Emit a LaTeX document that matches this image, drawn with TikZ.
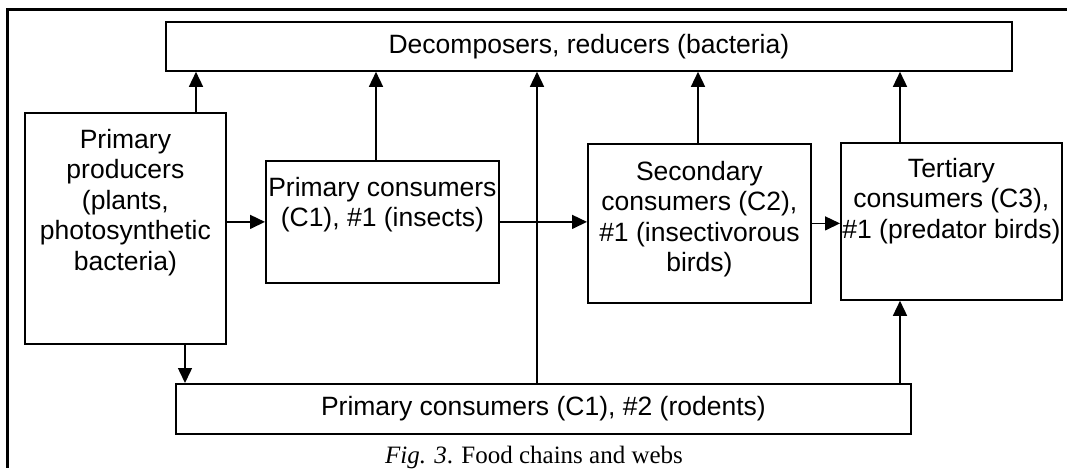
\documentclass[tikz,border=0pt]{standalone}
\usepackage{fontspec}
\setmainfont{Liberation Sans}
\newfontfamily\captionfont{Liberation Serif}
\usetikzlibrary{arrows.meta, positioning}

\begin{document}
\begin{tikzpicture}[x=1pt, y=-1pt,
    box/.style = {draw, line width=1.8pt, inner sep=0pt, anchor=north west},
    lbl/.style = {align=center, inner sep=0pt, font=\fontsize{26.5}{30.5}\selectfont},
    arr/.style = {line width=1.5pt, -{Triangle[length=15pt, width=14pt]}}]
    % Pagina
    \useasboundingbox (0,0) rectangle (1067,468);
    \draw[line width=3pt] (1067,10) -- (7,10) -- (7,468);
    % Colonne delle frecce
    \coordinate (xa) at (196,0);
    \coordinate (xb) at (185,0);
    \coordinate (xc) at (376,0);
    \coordinate (xd) at (537,0);
    \coordinate (xe) at (698,0);
    \coordinate (xf) at (900,0);
    % Riquadri
    \node[box, lbl, minimum width=846pt, minimum height=49pt] (dec) at (165,21) {Decomposers, reducers (bacteria)};
    \node[box, minimum width=201pt, minimum height=231pt] (prod) at (24,112) {};
    \node[box, minimum width=233pt, minimum height=122pt] (cons1) at (265,160) {};
    \node[box, minimum width=223pt, minimum height=159pt] (cons2) at (587,143) {};
    \node[box, minimum width=221pt, minimum height=157pt] (cons3) at (840,142) {};
    \node[box, lbl, minimum width=735pt, minimum height=50pt] (rod) at (175,383) {Primary consumers (C1), \#2 (rodents)};
    % Testi
    \node[lbl, below=17pt of prod.north] (prodlbl) {Primary\\producers\\(plants,\\photosynthetic\\bacteria)};
    \node[lbl, below=17pt of cons1.north] (cons1lbl) {Primary consumers\\(C1), \#1 (insects)};
    \node[lbl, below=18pt of cons2.north] (cons2lbl) {Secondary\\consumers (C2),\\\#1 (insectivorous\\birds)};
    \node[lbl, below=16pt of cons3.north] (cons3lbl) {Tertiary\\consumers (C3),\\\#1 (predator birds)};
    \node[font=\captionfont\fontsize{25}{30}\selectfont, anchor=base] (cap) at (534,463) {\textit{Fig. 3}. Food chains and webs};
    % Frecce
    \draw[arr] (xa |- prod.north) -- (xa |- dec.south);
    \draw[arr] (xb |- prod.south) -- (xb |- rod.north);
    \draw[arr] (prod.east |- cons1.west) -- (cons1.west);
    \draw[arr] (xc |- cons1.north) -- (xc |- dec.south);
    \draw[arr] (cons1.east) -- (cons1.east -| cons2.west);
    \draw[arr] (xd |- rod.north) -- (xd |- dec.south);
    \draw[arr] (xe |- cons2.north) -- (xe |- dec.south);
    \draw[arr] (cons2.east) -- (cons2.east -| cons3.west);
    \draw[arr] (xf |- cons3.north) -- (xf |- dec.south);
    \draw[arr] (xf |- rod.north) -- (xf |- cons3.south);
\end{tikzpicture}
\end{document}
